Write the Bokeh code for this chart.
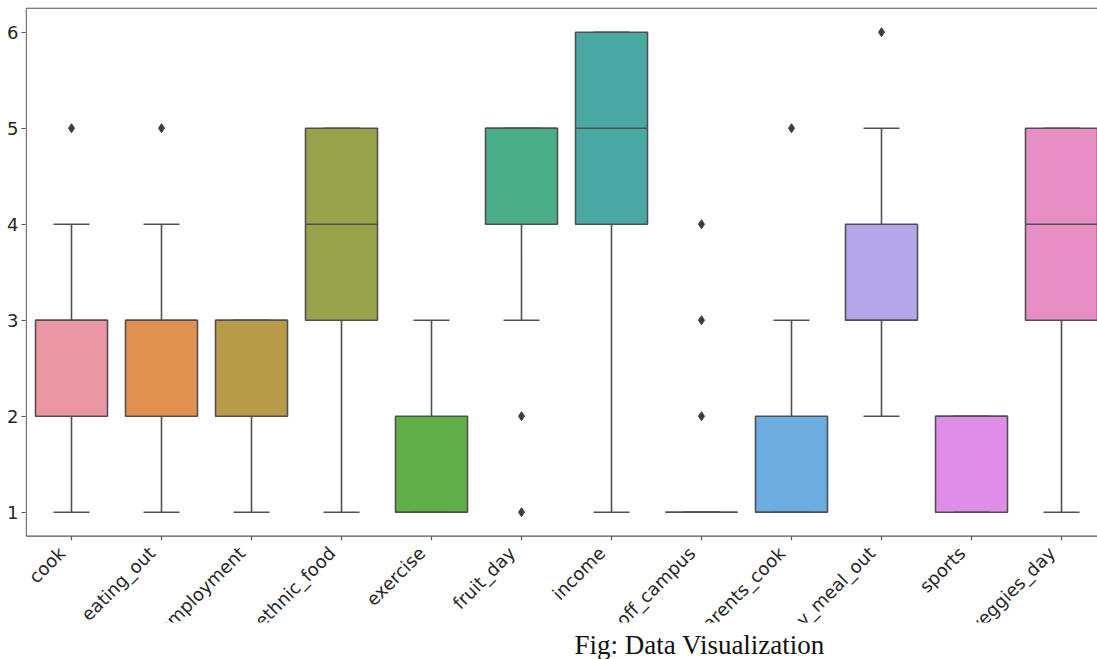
import math
from bokeh.plotting import figure
from bokeh.models import Range1d, FixedTicker, ColumnDataSource
from bokeh.core.properties import value
from bokeh.embed import file_html
from bokeh.resources import INLINE

# ---- data ----
categories = ["cook", "eating_out", "employment", "ethnic_food", "exercise", "fruit_day",
              "income", "off_campus", "parents_cook", "pay_meal_out", "sports", "veggies_day"]
whisker_low = [1, 1, 1, 1, 1, 3, 1, 1, 1, 2, 1, 1]
q1 = [2, 2, 2, 3, 1, 4, 4, 1, 1, 3, 1, 3]
median = [3, 3, 3, 4, 1, 5, 5, 1, 1, 3, 2, 4]
q3 = [3, 3, 3, 5, 2, 5, 6, 1, 2, 4, 2, 5]
whisker_high = [4, 4, 3, 5, 3, 5, 6, 1, 3, 5, 2, 5]
outliers = [[5], [5], [], [], [], [2, 1], [], [2, 3, 4], [5], [6], [], []]
colors = ["#EA96A3", "#E0914F", "#B89B48", "#99A24A", "#60AE47", "#4AAE88",
          "#4AA8A3", "#4FA9BE", "#6BADE0", "#B5A6EA", "#DF8DE8", "#E78EC4"]
y_ticks = [1, 2, 3, 4, 5, 6]
caption = "Fig: Data Visualization"

# ---- layout constants (pixels) ----
W, H = 1097, 659
X0PX, DXPX = 71.0, 90.0      # pixel of category 0, pixels per category
Y6PX, DYPX = 31.7, 96.0      # pixel of y=6, pixels per unit
LEFT, TOP = 25, 7

def xv(px):
    return (px - X0PX) / DXPX

def yv(py):
    return 6 - (py - Y6PX) / DYPX

p = figure(width=W, height=H, output_backend="svg", toolbar_location=None,
           x_range=Range1d(xv(LEFT), xv(W)), y_range=Range1d(yv(H), yv(TOP)),
           min_border_left=LEFT, min_border_right=0, min_border_top=TOP, min_border_bottom=0,
           x_axis_location=None)
p.outline_line_color = None
p.grid.visible = False
p.background_fill_color = "white"
p.border_fill_color = "white"

ax = p.yaxis[0]
ax.ticker = FixedTicker(ticks=y_ticks)
ax.axis_line_color = None
ax.major_tick_out = 4
ax.major_tick_in = 0
ax.minor_tick_out = 0
ax.minor_tick_in = 0
ax.major_tick_line_color = "#555555"
ax.major_tick_line_width = 1.2
ax.major_label_standoff = 3
ax.major_label_text_font = "DejaVu Sans"
ax.major_label_text_font_size = "18px"
ax.major_label_text_color = "#262626"

ylo_axis = yv(535.7)
yhi_axis = yv(7.7)
xl_axis = xv(25.7)
xr_axis = xv(W + 10)

n = len(categories)
xs = list(range(n))
half = 0.4
cap = 0.2
edge = "#505050"
lw = 1.6

# whiskers
p.segment(x0=xs, y0=whisker_low, x1=xs, y1=q1, line_color=edge, line_width=lw)
p.segment(x0=xs, y0=q3, x1=xs, y1=whisker_high, line_color=edge, line_width=lw)
# boxes
p.quad(left=[x - half for x in xs], right=[x + half for x in xs], bottom=q1, top=q3,
       fill_color=colors, line_color=edge, line_width=lw)
# caps
p.segment(x0=[x - cap for x in xs], y0=whisker_low, x1=[x + cap for x in xs], y1=whisker_low,
          line_color=edge, line_width=lw)
p.segment(x0=[x - cap for x in xs], y0=whisker_high, x1=[x + cap for x in xs], y1=whisker_high,
          line_color=edge, line_width=lw)
# medians
p.segment(x0=[x - half for x in xs], y0=median, x1=[x + half for x in xs], y1=median,
          line_color=edge, line_width=lw)
# outliers
ox, oy = [], []
for i, vals in enumerate(outliers):
    for v in vals:
        ox.append(i)
        oy.append(v)
p.scatter(ox, oy, marker="diamond", size=9, fill_color="#3d3d3d", line_color="#3d3d3d")

# spines
p.segment(x0=[xl_axis], y0=[ylo_axis], x1=[xl_axis], y1=[yhi_axis], line_color="#555555", line_width=1.2)
p.segment(x0=[xl_axis], y0=[yhi_axis], x1=[xr_axis], y1=[yhi_axis], line_color="#555555", line_width=1.2)
p.segment(x0=[xl_axis], y0=[ylo_axis], x1=[xr_axis], y1=[ylo_axis], line_color="#555555", line_width=1.2)
# x ticks
p.segment(x0=xs, y0=[ylo_axis] * n, x1=xs, y1=[yv(535.7 + 4)] * n, line_color="#555555", line_width=1.2)

# rotated x labels
lab_src = ColumnDataSource(dict(x=[x - 17 / DXPX for x in xs], y=[yv(542.0)] * n, t=categories))
p.text(x="x", y="y", text="t", source=lab_src, angle=math.pi / 4,
       text_align="right", text_baseline="top", text_font=value("DejaVu Sans"),
       text_font_size="18px", text_color="#262626")

# crop the labels like the reference (white band below)
p.quad(left=[xv(0)], right=[xv(W + 20)], bottom=[yv(H + 20)], top=[yv(622)],
       fill_color="white", line_color=None)

# caption
p.text(x=[xv(574)], y=[yv(644)], text=[caption], text_align="left", text_baseline="alphabetic",
       text_font=value("Liberation Serif"), text_font_size="27px", text_color="#111111")

open("out.html", "w").write(file_html(p, INLINE))
